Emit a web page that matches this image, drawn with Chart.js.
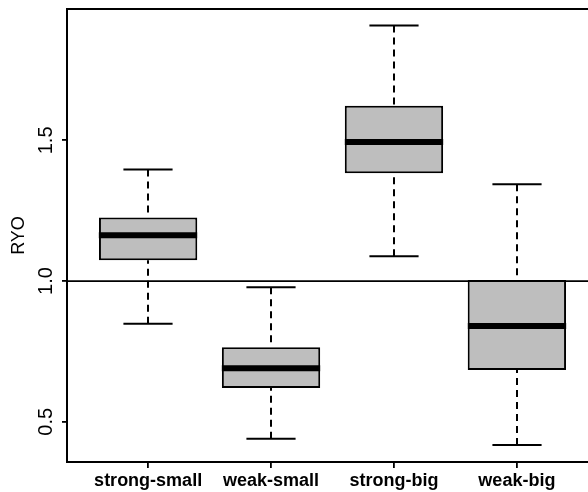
<!DOCTYPE html>
<html>
<head>
<meta charset="utf-8">
<script src="https://cdn.jsdelivr.net/npm/chart.js@4.4.1/dist/chart.umd.min.js"></script>
<style>
  html, body { margin: 0; padding: 0; background: #fff; overflow: hidden; }
  #wrap { width: 588px; height: 492px; overflow: hidden; }
</style>
</head>
<body>
<div id="wrap"><canvas id="ryoChart" width="600" height="492"></canvas></div>
<script>
// five-number summaries per group
const groups = ['strong-small', 'weak-small', 'strong-big', 'weak-big'];
const whiskerLow = [0.848, 0.440, 1.088, 0.417];
const quartile1 = [1.074, 0.620, 1.383, 0.684];
const medians = [1.163, 0.690, 1.494, 0.840];
const quartile3 = [1.226, 0.765, 1.623, 1.004];
const whiskerHigh = [1.397, 0.978, 1.908, 1.344];
const yTicks = [0.5, 1.0, 1.5];
const refLevel = 1.0;

Chart.defaults.color = '#000';
Chart.defaults.font.family = "'Liberation Sans', Arial, sans-serif";

// whiskers, staples, medians, reference line and the rest of the frame
const boxExtras = {
    id: 'boxExtras',
    afterDatasetsDraw(chart) {
        const { ctx, chartArea: a, scales: { x, y } } = chart;
        const unit = x.getPixelForValue(1) - x.getPixelForValue(0);
        const seg = (x1, y1, x2, y2) => {
            ctx.beginPath();
            ctx.moveTo(x1, y1);
            ctx.lineTo(x2, y2);
            ctx.stroke();
        };
        ctx.save();
        ctx.strokeStyle = '#000';
        ctx.lineCap = 'butt';
        groups.forEach((g, i) => {
            const cx = Math.round(x.getPixelForValue(i + 1));
            ctx.lineWidth = 2;
            ctx.setLineDash([7, 5]);
            seg(cx, y.getPixelForValue(whiskerHigh[i]), cx, y.getPixelForValue(quartile3[i]));
            seg(cx, y.getPixelForValue(whiskerLow[i]), cx, y.getPixelForValue(quartile1[i]));
            ctx.setLineDash([]);
            const sw = unit * 0.2;
            seg(cx - sw, y.getPixelForValue(whiskerHigh[i]), cx + sw, y.getPixelForValue(whiskerHigh[i]));
            seg(cx - sw, y.getPixelForValue(whiskerLow[i]), cx + sw, y.getPixelForValue(whiskerLow[i]));
            const bw = unit * 0.4;
            ctx.lineWidth = 6;
            seg(cx - bw, y.getPixelForValue(medians[i]), cx + bw, y.getPixelForValue(medians[i]));
        });
        ctx.lineWidth = 1.8;
        const ry = y.getPixelForValue(refLevel);
        seg(a.left, ry, a.right, ry);
        ctx.lineWidth = 2;
        seg(a.left - 1, a.top, a.right, a.top);
        seg(a.right, a.top, a.right, a.bottom);
        ctx.restore();
    }
};

// fixed axis sizes, no extra room for end labels
const noPad = s => { s.paddingTop = 0; s.paddingBottom = 0; s.paddingLeft = 0; s.paddingRight = 0; };

const ctx = document.getElementById('ryoChart').getContext('2d');
new Chart(ctx, {
    type: 'bar',
    data: {
        datasets: [{
            data: groups.map((g, i) => ({ x: i + 1, y: [quartile1[i], quartile3[i]] })),
            backgroundColor: '#bebebe',
            borderColor: '#000',
            borderWidth: 2,
            borderSkipped: false,
            categoryPercentage: 1,
            barPercentage: 0.8,
        }],
    },
    options: {
        responsive: false,
        animation: false,
        layout: { padding: { top: 9, right: 2, left: 0, bottom: 0 } },
        plugins: {
            legend: { display: false },
            tooltip: { enabled: false },
        },
        scales: {
            x: {
                type: 'linear',
                min: 0.34, max: 4.66,
                offset: false,
                afterBuildTicks: s => { s.ticks = groups.map((g, i) => ({ value: i + 1 })); },
                afterFit: s => { s.height = 30; noPad(s); },
                border: { display: true, color: '#000', width: 2 },
                grid: { drawOnChartArea: false, offset: false, color: '#000', lineWidth: 1.8, tickLength: 6 },
                ticks: {
                    padding: 2,
                    maxRotation: 0,
                    autoSkip: false,
                    font: { size: 18, weight: 'bold' },
                    callback: v => groups[v - 1],
                },
            },
            y: {
                min: 0.357, max: 1.967,
                afterBuildTicks: s => { s.ticks = yTicks.map(v => ({ value: v })); },
                afterFit: s => { s.width = 67; noPad(s); },
                border: { display: true, color: '#000', width: 2 },
                grid: { drawOnChartArea: false, color: '#000', lineWidth: 1.8, tickLength: 5 },
                ticks: {
                    minRotation: 90, maxRotation: 90,
                    crossAlign: 'center',
                    padding: 2,
                    font: { size: 20 },
                    callback: v => v.toFixed(1),
                },
                title: {
                    display: true,
                    text: 'RYO',
                    font: { size: 18 },
                    padding: { top: 8, bottom: 0 },
                },
            },
        },
    },
    plugins: [boxExtras],
});
</script>
</body>
</html>
